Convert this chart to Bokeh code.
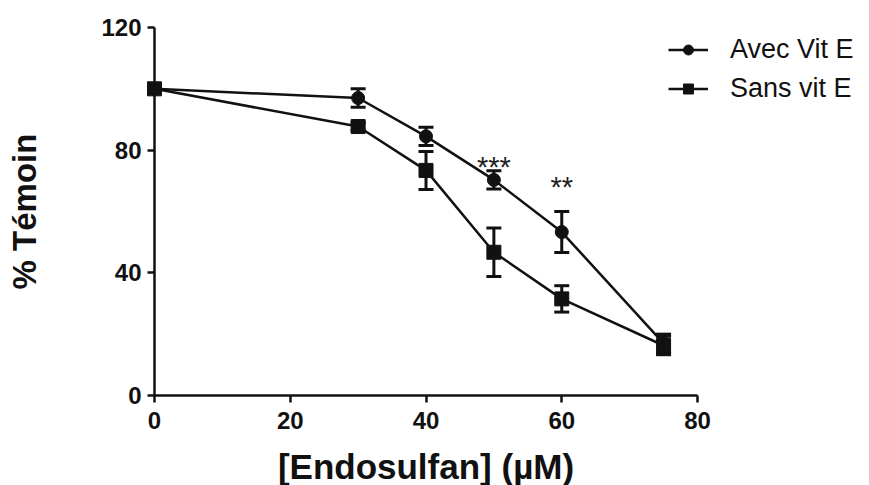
from bokeh.plotting import figure
from bokeh.models import Range1d, Whisker, TeeHead, ColumnDataSource, Legend, LegendItem, FixedTicker
from bokeh.core.properties import value
from bokeh.embed import file_html
from bokeh.resources import INLINE

# Data
conc = [0, 30, 40, 50, 60, 75]
avec = [100, 97, 84.5, 70.3, 53.3, 17]
avec_err = [0, 3, 3, 3, 6.7, 3]
sans = [100, 87.7, 73.4, 46.7, 31.5, 16.3]
sans_err = [0, 1.2, 6.2, 7.9, 4.3, 3]
star_x = [50, 60]
star_y = [74.5, 68.0]
star_text = ["***", "**"]
x_ticks = [0, 20, 40, 60, 80]
y_ticks = [0, 40, 80, 120]

W, H = 869, 485
# frame covers the whole figure; axes sit at data 0 via fixed_location
p = figure(width=W, height=H, output_backend="svg", toolbar_location=None,
           x_range=Range1d(-22.69, 105.34), y_range=Range1d(-29.35, 128.8))
p.min_border = 0
p.outline_line_color = None
p.grid.visible = False
p.background_fill_color = "white"

for ax in (p.xaxis[0], p.yaxis[0]):
    ax.axis_line_width = 2.5
    ax.major_tick_line_width = 2.5
    ax.major_tick_out = 7
    ax.major_tick_in = 0
    ax.minor_tick_line_color = None
    ax.major_label_text_font = "Liberation Sans"
    ax.major_label_text_font_style = "bold"
    ax.major_label_text_font_size = "24px"
    ax.major_label_text_color = "#111111"
    ax.axis_label_text_font = "Liberation Sans"
    ax.axis_label_text_font_style = "bold"
    ax.axis_label_text_color = "#111111"
    ax.axis_line_color = "#111111"
    ax.major_tick_line_color = "#111111"

p.xaxis.axis_label_text_font_size = "35px"
p.yaxis.axis_label_text_font_size = "33px"
p.xaxis.fixed_location = 0
p.yaxis.fixed_location = 0
p.xaxis.bounds = (0, 80)
p.yaxis.bounds = (0, 120)
p.xaxis.ticker = FixedTicker(ticks=x_ticks)
p.yaxis.ticker = FixedTicker(ticks=y_ticks)
p.xaxis.axis_label = "[Endosulfan] (µM)"
p.yaxis.axis_label = "% Témoin"
p.xaxis.major_label_standoff = 10
p.yaxis.major_label_standoff = 6
p.xaxis.axis_label_standoff = 14
p.yaxis.axis_label_standoff = 55

src_a = ColumnDataSource(dict(x=conc, y=avec,
                              lo=[v - e for v, e in zip(avec, avec_err)],
                              hi=[v + e for v, e in zip(avec, avec_err)]))
src_s = ColumnDataSource(dict(x=conc, y=sans,
                              lo=[v - e for v, e in zip(sans, sans_err)],
                              hi=[v + e for v, e in zip(sans, sans_err)]))

la = p.line("x", "y", source=src_a, line_color="#111111", line_width=2.5)
ma = p.scatter("x", "y", source=src_a, marker="circle", size=13, color="#111111")
ls = p.line("x", "y", source=src_s, line_color="#111111", line_width=2.5)
ms = p.scatter("x", "y", source=src_s, marker="square", size=14, color="#111111")

for src in (src_a, src_s):
    w = Whisker(source=src, base="x", upper="hi", lower="lo",
                line_color="#111111", line_width=3,
                upper_head=TeeHead(size=15, line_width=3, line_color="#111111"),
                lower_head=TeeHead(size=15, line_width=3, line_color="#111111"))
    p.add_layout(w)

p.text(x=star_x, y=star_y, text=star_text, text_align="center", text_baseline="middle",
       text_font=value("Liberation Sans"), text_font_size="29px", text_color="#222222")

legend = Legend(items=[LegendItem(label="Avec Vit E", renderers=[la, ma]),
                       LegendItem(label="Sans vit E", renderers=[ls, ms])],
                location=(668, 381))
legend.label_text_font = "Liberation Sans"
legend.label_text_font_size = "27px"
legend.label_text_color = "#111111"
legend.glyph_width = 40
legend.glyph_height = 25
legend.label_height = 25
legend.label_standoff = 22
legend.spacing = 8
legend.padding = 0
legend.margin = 0
legend.border_line_color = None
legend.background_fill_alpha = 0
p.add_layout(legend, "center")

open("out.html", "w").write(file_html(p, INLINE))
